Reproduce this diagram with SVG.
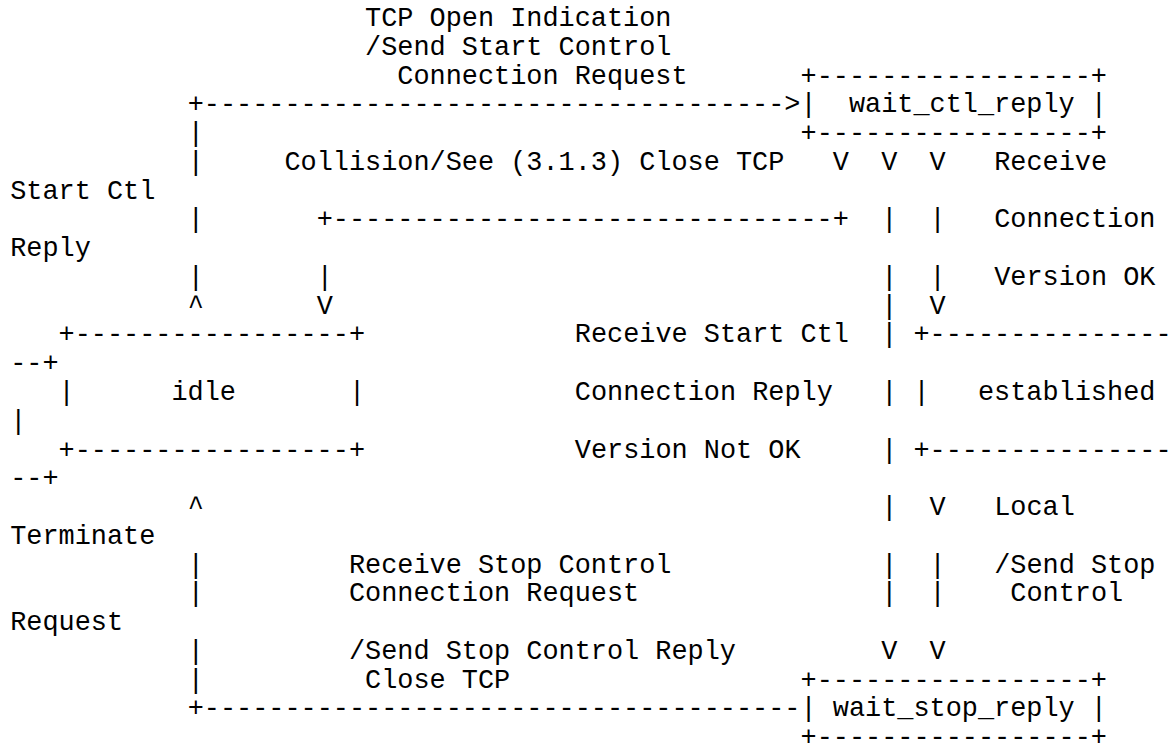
<svg xmlns="http://www.w3.org/2000/svg" width="1169" height="744" viewBox="0 0 1169 744" xml:space="preserve">
<style>
text { font-family: "Courier New", Courier, "Nimbus Mono PS", "Nimbus Mono L", FreeMono, "Liberation Mono", monospace; font-size: 26.88px; fill: #000; white-space: pre; }
</style>
<rect x="0" y="0" width="1169" height="744" fill="#fff"/>
<g id="node-wait_ctl_reply">
<text x="800.57" y="83.54">+-----------------+</text>
<text x="800.57" y="112.31">|  wait_ctl_reply |</text>
<text x="800.57" y="141.08">+-----------------+</text>
</g>
<g id="node-idle">
<text x="58.59" y="342.47">+-----------------+</text>
<text x="58.59" y="400.01">|      idle       |</text>
<text x="58.59" y="457.55">+-----------------+</text>
</g>
<g id="node-established">
<text x="913.48" y="342.47">+---------------</text>
<text x="10.2" y="371.24">--+</text>
<text x="913.48" y="400.01">|   established</text>
<text x="10.2" y="428.78">|</text>
<text x="913.48" y="457.55">+---------------</text>
<text x="10.2" y="486.32">--+</text>
</g>
<g id="node-wait_stop_reply">
<text x="800.57" y="687.71">+-----------------+</text>
<text x="800.57" y="716.48">| wait_stop_reply |</text>
<text x="800.57" y="745.25">+-----------------+</text>
</g>
<g id="connectors">
<text x="187.63" y="112.31">+------------------------------------&gt;</text>
<text x="187.63" y="141.08">|</text>
<text x="187.63" y="169.85">|</text>
<text x="832.83" y="169.85">V  V  V</text>
<text x="187.63" y="227.39">|</text>
<text x="316.67" y="227.39">+-------------------------------+</text>
<text x="881.22" y="227.39">|  |</text>
<text x="187.63" y="284.93">|</text>
<text x="316.67" y="284.93">|</text>
<text x="881.22" y="284.93">|  |</text>
<text x="187.63" y="313.70">^</text>
<text x="316.67" y="313.70">V</text>
<text x="881.22" y="313.70">|  V</text>
<text x="881.22" y="342.47">|</text>
<text x="881.22" y="400.01">|</text>
<text x="881.22" y="457.55">|</text>
<text x="187.63" y="515.09">^</text>
<text x="881.22" y="515.09">|  V</text>
<text x="187.63" y="572.63">|</text>
<text x="881.22" y="572.63">|  |</text>
<text x="187.63" y="601.40">|</text>
<text x="881.22" y="601.40">|  |</text>
<text x="187.63" y="658.94">|</text>
<text x="881.22" y="658.94">V  V</text>
<text x="187.63" y="687.71">|</text>
<text x="187.63" y="716.48">+-------------------------------------</text>
</g>
<g id="labels">
<text x="365.06" y="26.00">TCP Open Indication</text>
<text x="365.06" y="54.77">/Send Start Control</text>
<text x="397.32" y="83.54">Connection Request</text>
<text x="284.41" y="169.85">Collision/See (3.1.3) Close TCP</text>
<text x="994.13" y="169.85">Receive</text>
<text x="10.2" y="198.62">Start Ctl</text>
<text x="994.13" y="227.39">Connection</text>
<text x="10.2" y="256.16">Reply</text>
<text x="994.13" y="284.93">Version OK</text>
<text x="574.75" y="342.47">Receive Start Ctl</text>
<text x="574.75" y="400.01">Connection Reply</text>
<text x="574.75" y="457.55">Version Not OK</text>
<text x="994.13" y="515.09">Local</text>
<text x="10.2" y="543.86">Terminate</text>
<text x="348.93" y="572.63">Receive Stop Control</text>
<text x="994.13" y="572.63">/Send Stop</text>
<text x="348.93" y="601.40">Connection Request</text>
<text x="1010.26" y="601.40">Control</text>
<text x="10.2" y="630.17">Request</text>
<text x="348.93" y="658.94">/Send Stop Control Reply</text>
<text x="365.06" y="687.71">Close TCP</text>
</g>
</svg>
